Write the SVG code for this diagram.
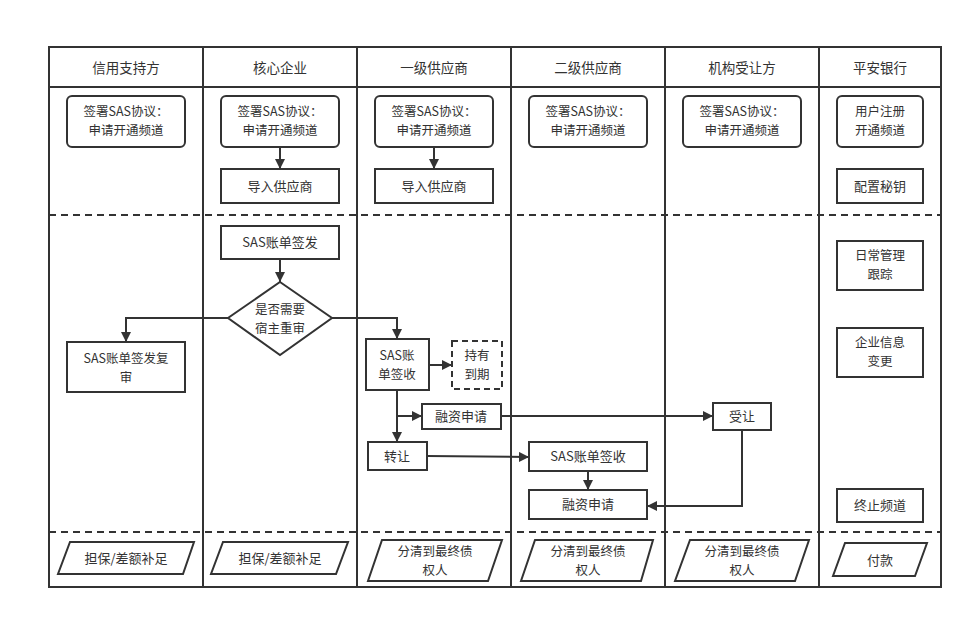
<svg xmlns="http://www.w3.org/2000/svg" width="973" height="620" viewBox="0 0 973 620">
<defs>
<marker id="ah" viewBox="0 0 10 10" refX="10" refY="5" markerWidth="10" markerHeight="10" markerUnits="userSpaceOnUse" orient="auto">
<path d="M0,0 L10,5 L0,10 z" fill="#333"/>
</marker>
<style>
.frame{fill:none;stroke:#333;stroke-width:2}
.dash{fill:none;stroke:#333;stroke-width:2;stroke-dasharray:7,5}
.box{fill:#fff;stroke:#333;stroke-width:2}
.dbox{fill:#fff;stroke:#333;stroke-width:2;stroke-dasharray:6,4}
.t{font-family:"Noto Sans CJK SC","Liberation Sans",sans-serif;font-size:13px;fill:#333;text-anchor:middle}
.m{font-family:"Noto Sans CJK SC","Liberation Sans",sans-serif;font-size:12.5px;fill:#333;text-anchor:middle}
.h{font-family:"Noto Sans CJK SC","Liberation Sans",sans-serif;font-size:13.5px;fill:#333;text-anchor:middle}
.c{fill:none;stroke:#333;stroke-width:2;marker-end:url(#ah)}
</style>
</defs>
<rect width="973" height="620" fill="#fff"/>
<g id="frame">
<rect class="frame" x="49" y="47" width="892" height="540"/>
<line class="frame" x1="49" y1="87" x2="941" y2="87"/>
<line class="frame" x1="203" y1="47" x2="203" y2="587"/>
<line class="frame" x1="357" y1="47" x2="357" y2="587"/>
<line class="frame" x1="511" y1="47" x2="511" y2="587"/>
<line class="frame" x1="665" y1="47" x2="665" y2="587"/>
<line class="frame" x1="819" y1="47" x2="819" y2="587"/>
<line class="dash" x1="49" y1="215" x2="941" y2="215"/>
<line class="dash" x1="49" y1="532" x2="941" y2="532"/>
<text class="h" x="126" y="73">信用支持方</text>
<text class="h" x="280" y="73">核心企业</text>
<text class="h" x="434" y="73">一级供应商</text>
<text class="h" x="588" y="73">二级供应商</text>
<text class="h" x="742" y="73">机构受让方</text>
<text class="h" x="880" y="73">平安银行</text>
</g>
<g id="connectors">
<path class="c" d="M280,147 L280,169"/>
<path class="c" d="M434,147 L434,169"/>
<path class="c" d="M280,259 L280,282"/>
<path class="c" d="M228,318 L126,318 L126,342"/>
<path class="c" d="M332,318 L397,318 L397,339"/>
<path class="c" d="M429,365 L452,365"/>
<path class="c" d="M397,390 L397,442"/>
<path class="c" d="M397,416 L422,416"/>
<path class="c" d="M501,416 L713,416"/>
<path class="c" d="M427,456 L529,457"/>
<path class="c" d="M588,471 L588,490"/>
<path class="c" d="M742,430 L742,506 L647,506"/>
</g>
<g id="n_c1_sign"><rect class="box" x="67" y="96" width="118" height="51" rx="5"/><text class="m" x="126" y="116">签署SAS协议：</text><text class="m" x="126" y="134.5">申请开通频道</text></g>
<g id="n_c2_sign"><rect class="box" x="221" y="96" width="118" height="51" rx="5"/><text class="m" x="280" y="116">签署SAS协议：</text><text class="m" x="280" y="134.5">申请开通频道</text></g>
<g id="n_c3_sign"><rect class="box" x="375" y="96" width="118" height="51" rx="5"/><text class="m" x="434" y="116">签署SAS协议：</text><text class="m" x="434" y="134.5">申请开通频道</text></g>
<g id="n_c4_sign"><rect class="box" x="529" y="96" width="118" height="51" rx="5"/><text class="m" x="588" y="116">签署SAS协议：</text><text class="m" x="588" y="134.5">申请开通频道</text></g>
<g id="n_c5_sign"><rect class="box" x="683" y="96" width="118" height="51" rx="5"/><text class="m" x="742" y="116">签署SAS协议：</text><text class="m" x="742" y="134.5">申请开通频道</text></g>
<g id="n_c6_reg"><rect class="box" x="837" y="96" width="86" height="51" rx="5"/><text class="m" x="880" y="116">用户注册</text><text class="m" x="880" y="134.5">开通频道</text></g>
<g id="n_c2_import"><rect class="box" x="221" y="169" width="118" height="34"/><text class="t" x="280" y="191">导入供应商</text></g>
<g id="n_c3_import"><rect class="box" x="375" y="169" width="118" height="34"/><text class="t" x="434" y="191">导入供应商</text></g>
<g id="n_c6_key"><rect class="box" x="837" y="169" width="86" height="34"/><text class="t" x="880" y="191">配置秘钥</text></g>
<g id="n_issue"><rect class="box" x="221" y="226" width="118" height="33"/><text class="t" x="280" y="247">SAS账单签发</text></g>
<g id="n_decision"><polygon class="box" points="280,282 332,318 280,355 228,318"/><text class="m" x="280" y="314">是否需要</text><text class="m" x="280" y="332.5">宿主重审</text></g>
<g id="n_review"><rect class="box" x="67" y="342" width="118" height="50"/><text class="m" x="126" y="363">SAS账单签发复</text><text class="m" x="126" y="381.5">审</text></g>
<g id="n_c3_receive"><rect class="box" x="366" y="339" width="63" height="51"/><text class="m" x="397" y="360">SAS账</text><text class="m" x="397" y="378.5">单签收</text></g>
<g id="n_hold"><rect class="dbox" x="452" y="341" width="50" height="48"/><text class="m" x="477" y="360">持有</text><text class="m" x="477" y="378.5">到期</text></g>
<g id="n_c3_finance"><rect class="box" x="422" y="404" width="79" height="25"/><text class="t" x="461" y="421">融资申请</text></g>
<g id="n_transfer"><rect class="box" x="368" y="442" width="59" height="28"/><text class="t" x="397" y="461">转让</text></g>
<g id="n_c4_receive"><rect class="box" x="529" y="442" width="118" height="29"/><text class="t" x="588" y="461">SAS账单签收</text></g>
<g id="n_c4_finance"><rect class="box" x="529" y="490" width="118" height="29"/><text class="t" x="588" y="509">融资申请</text></g>
<g id="n_accept"><rect class="box" x="713" y="403" width="58" height="27"/><text class="t" x="742" y="421">受让</text></g>
<g id="n_daily"><rect class="box" x="837" y="241" width="86" height="49"/><text class="m" x="880" y="260">日常管理</text><text class="m" x="880" y="278.5">跟踪</text></g>
<g id="n_change"><rect class="box" x="837" y="328" width="86" height="49"/><text class="m" x="880" y="347">企业信息</text><text class="m" x="880" y="365.5">变更</text></g>
<g id="n_stop"><rect class="box" x="837" y="489" width="86" height="33"/><text class="t" x="880" y="510">终止频道</text></g>
<g id="n_p1"><polygon class="box" points="70,542 194,542 183,574 58,574"/><text class="t" x="126" y="563">担保/差额补足</text></g>
<g id="n_p2"><polygon class="box" points="223,542 348,542 336,574 211,574"/><text class="t" x="280" y="563">担保/差额补足</text></g>
<g id="n_p3"><polygon class="box" points="382,540 502,540 488,581 368,581"/><text class="m" x="435" y="556">分清到最终债</text><text class="m" x="435" y="574.5">权人</text></g>
<g id="n_p4"><polygon class="box" points="535,540 653,540 641,581 521,581"/><text class="m" x="588" y="556">分清到最终债</text><text class="m" x="588" y="574.5">权人</text></g>
<g id="n_p5"><polygon class="box" points="690,540 809,540 795,581 675,581"/><text class="m" x="742" y="556">分清到最终债</text><text class="m" x="742" y="574.5">权人</text></g>
<g id="n_p6"><polygon class="box" points="845,543 927,543 915,576 833,576"/><text class="t" x="880" y="565">付款</text></g>
</svg>
